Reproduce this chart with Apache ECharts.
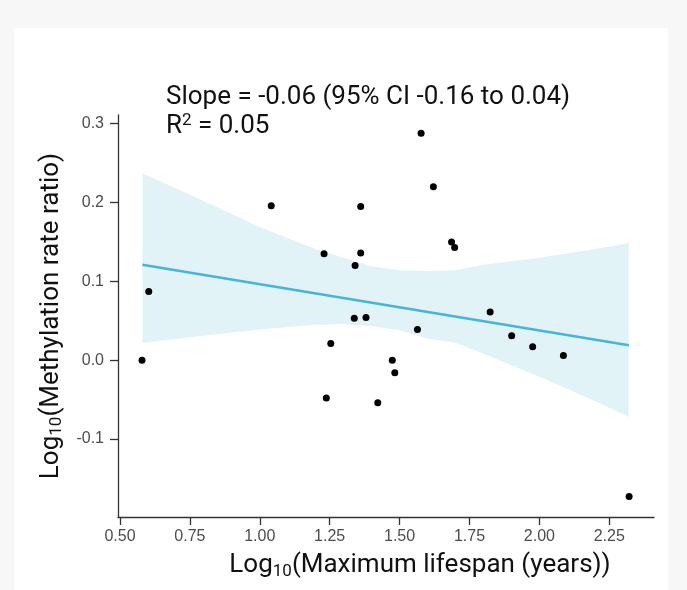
<!DOCTYPE html>
<html>
<head>
<meta charset="utf-8">
<script src="https://cdn.jsdelivr.net/npm/echarts@6.0.0/dist/echarts.min.js"></script>
<style>
  html, body {
    margin: 0;
    padding: 0;
    background-color: #f7f7f7;
  }
  .panel {
    position: absolute;
    left: 14px;
    top: 28px;
    width: 654px;
    height: 562px;
    background-color: #ffffff;
  }
  .chart {
    position: absolute;
    left: 0;
    top: 0;
    width: 687px;
    height: 590px;
  }
</style>
</head>
<body>
<div class="panel"></div>
<div id="scatterChart" class="chart"></div>
<script>
  // tick labels
  const xTicks = [0.5, 0.75, 1.0, 1.25, 1.5, 1.75, 2.0, 2.25];
  const yTicks = [-0.1, 0.0, 0.1, 0.2, 0.3];

  // one point per species: log10 max lifespan, log10 methylation rate ratio
  const lifespan = [0.579, 0.603, 1.041, 1.230, 1.238, 1.254, 1.338, 1.341, 1.361, 1.361, 1.380, 1.422,
    1.474, 1.483, 1.564, 1.577, 1.621, 1.686, 1.697, 1.824, 1.901, 1.976, 2.086, 2.321];
  const methylation = [0.000, 0.087, 0.196, 0.135, -0.048, 0.021, 0.053, 0.120, 0.195, 0.136, 0.054, -0.054,
    0.000, -0.016, 0.039, 0.288, 0.220, 0.150, 0.143, 0.061, 0.031, 0.017, 0.006, -0.173];

  // fitted line and its 95% band
  const fitX = [0.58, 2.32];
  const fitY = [0.121, 0.019];
  const bandX = [0.58, 0.8, 1.0, 1.2, 1.3, 1.4, 1.5, 1.6, 1.7, 1.8, 2.0, 2.2, 2.32];
  const bandUpper = [0.237, 0.202, 0.169, 0.141, 0.130, 0.119, 0.114, 0.113, 0.114, 0.121, 0.130, 0.141, 0.1485];
  const bandLower = [0.0216, 0.031, 0.039, 0.045, 0.046, 0.043, 0.038, 0.027, 0.022, 0.008, -0.021, -0.052, -0.072];

  const titleFont = 'Roboto';
  const tickFont = 'Liberation Sans';

  let points = [];
  for (let i = 0; i < lifespan.length; i++) {
    points.push([lifespan[i], methylation[i]]);
  }
  let bandData = [];
  for (let i = 0; i < bandX.length; i++) {
    bandData.push([bandX[i], bandLower[i], bandUpper[i]]);
  }
  let fitData = [];
  for (let i = 0; i < fitX.length; i++) {
    fitData.push([fitX[i], fitY[i]]);
  }

  // the band is one polygon: upper edge left to right, then lower edge back
  function renderBand(params, api) {
    if (params.dataIndex !== 0) {
      return;
    }
    let pts = [];
    for (let i = 0; i < bandData.length; i++) {
      pts.push(api.coord([bandData[i][0], bandData[i][2]]));
    }
    for (let i = bandData.length - 1; i >= 0; i--) {
      pts.push(api.coord([bandData[i][0], bandData[i][1]]));
    }
    return {
      type: 'polygon',
      shape: {points: pts},
      style: {fill: '#e2f3f8'}
    };
  }

  const bigText = {fontFamily: titleFont, fontSize: 26, fontWeight: 'normal', color: '#111111', lineHeight: 29};
  const subText = {fontFamily: titleFont, fontSize: 17, fontWeight: 'normal', color: '#111111', verticalAlign: 'bottom'};
  const supText = {fontFamily: titleFont, fontSize: 17, fontWeight: 'normal', color: '#111111', verticalAlign: 'top'};

  let myChart = echarts.init(document.getElementById('scatterChart'), null, {renderer: 'canvas'});
  let chartOption = {
    animation: false,
    backgroundColor: 'transparent',
    title: {
      left: 166,
      top: 83,
      padding: 0,
      text: '{t|Slope = -0.06 (95% CI -0.16 to 0.04)}\n{t|R}{sup|2}{t| = 0.05}',
      textStyle: {
        fontWeight: 'normal',
        rich: {t: bigText, sup: supText}
      }
    },
    grid: {
      left: 118,
      right: 33,
      top: 115,
      bottom: 73,
      outerBoundsMode: 'none'
    },
    xAxis: {
      type: 'value',
      min: 0.493,
      max: 2.41,
      name: '{t|Log}{s|10}{t|(Maximum lifespan (years))}',
      nameLocation: 'middle',
      nameGap: 34,
      nameTextStyle: {
        padding: [0, 0, 0, 68],
        rich: {t: bigText, s: subText}
      },
      axisLine: {onZero: false, lineStyle: {color: '#333333', width: 1.3}},
      axisTick: {customValues: xTicks, length: 8, lineStyle: {color: '#333333', width: 1.3}},
      axisLabel: {
        customValues: xTicks,
        formatter: v => v.toFixed(2),
        color: '#4d4d4d',
        fontFamily: tickFont,
        fontSize: 16,
        margin: 12
      },
      splitLine: {show: false}
    },
    yAxis: {
      type: 'value',
      min: -0.199,
      max: 0.311,
      name: '{t|Log}{s|10}{t|(Methylation rate ratio)}',
      nameLocation: 'middle',
      nameRotate: 90,
      nameGap: 52,
      nameTextStyle: {
        rich: {t: bigText, s: subText}
      },
      axisLine: {show: true, onZero: false, lineStyle: {color: '#333333', width: 1.3}},
      axisTick: {show: true, customValues: yTicks, length: 8, lineStyle: {color: '#333333', width: 1.3}},
      axisLabel: {
        customValues: yTicks,
        formatter: v => v.toFixed(1),
        color: '#4d4d4d',
        fontFamily: tickFont,
        fontSize: 16,
        margin: 14
      },
      splitLine: {show: false}
    },
    series: [
      {
        name: 'band',
        type: 'custom',
        data: bandData,
        encode: {x: 0, y: [1, 2]},
        renderItem: renderBand,
        silent: true,
        z: 1
      },
      {
        name: 'fit',
        type: 'line',
        data: fitData,
        symbol: 'none',
        lineStyle: {color: '#45b5d9', width: 2.6},
        z: 2
      },
      {
        name: 'species',
        type: 'scatter',
        data: points,
        symbolSize: 7,
        itemStyle: {color: '#000000', opacity: 1},
        z: 3
      }
    ]
  };

  myChart.setOption(chartOption);
</script>
</body>
</html>
